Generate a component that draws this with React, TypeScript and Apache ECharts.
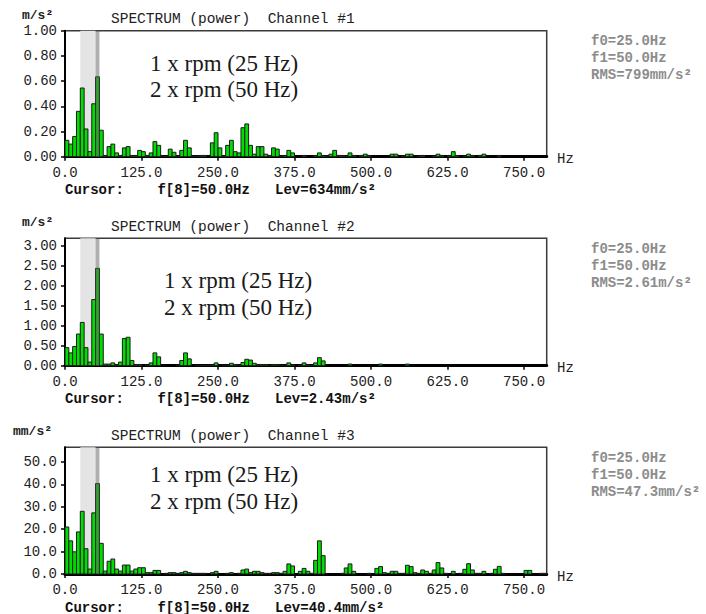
import React, { useEffect, useRef } from "react";
import * as echarts from "echarts";

// ---- data ----
const BIN_HZ = 6.25;
const X_TICKS = [0, 125, 250, 375, 500, 625, 750];

const ch1Values = [
  0.13, 0.10, 0.16, 0.36, 0.545, 0.22, 0.04, 0.42, 0.634, 0.21,
  0.01, 0.08, 0.10, 0.03, 0.01, 0.07, 0.08, 0.01, 0.01, 0.05,
  0.04, 0.01, 0.03, 0.12, 0.09, 0.005, 0.005, 0.06, 0.035, 0.005,
  0.05, 0.13, 0.07, 0.005, 0.005, 0.01, 0.01, 0, 0.11, 0.19,
  0.07, 0.005, 0.09, 0.13, 0.04, 0.03, 0.23, 0.26, 0.09, 0.02,
  0.08, 0.08, 0.02, 0.01, 0.07, 0.06, 0.005, 0.01, 0.05, 0.03,
  0, 0, 0.01, 0, 0, 0.01, 0.03, 0.01, 0.005, 0.02,
  0.05, 0.01, 0.01, 0.005, 0.03, 0.01, 0, 0.01, 0.02, 0.01,
  0, 0, 0, 0, 0, 0.02, 0.02, 0, 0.005, 0.02,
  0.02, 0, 0.005, 0.01, 0, 0, 0.005, 0.02, 0.01, 0,
  0.01, 0.04, 0.01, 0, 0.005, 0.02, 0.01, 0, 0.01, 0.02,
  0, 0, 0, 0.01, 0, 0, 0, 0, 0, 0,
  0, 0, 0, 0, 0, 0,
];

const ch2Values = [
  0.45, 0.32, 0.48, 0.79, 1.08, 0.45, 0.09, 1.65, 2.43, 0.79,
  0.04, 0.04, 0.07, 0.03, 0.09, 0.68, 0.71, 0.13, 0.03, 0.03,
  0, 0.01, 0.07, 0.32, 0.22, 0, 0, 0, 0, 0.01,
  0.13, 0.32, 0.17, 0, 0.01, 0.01, 0.01, 0.01, 0.02, 0.07,
  0, 0.005, 0.005, 0.06, 0.03, 0.01, 0.08, 0.16, 0.14, 0.06,
  0.03, 0.03, 0.03, 0.01, 0.03, 0.03, 0.01, 0.01, 0.07, 0.02,
  0, 0.01, 0.07, 0.02, 0.01, 0.07, 0.20, 0.12, 0, 0,
  0, 0, 0, 0, 0.04, 0, 0, 0, 0, 0,
  0, 0, 0.04, 0, 0, 0, 0, 0, 0, 0.04,
  0, 0, 0, 0, 0, 0, 0, 0, 0, 0,
  0, 0, 0, 0, 0, 0, 0, 0, 0, 0,
  0, 0, 0, 0, 0, 0, 0, 0, 0, 0,
  0, 0, 0, 0, 0, 0,
];

const ch3Values = [
  21, 14.8, 9.9, 18.8, 28, 11.3, 2.2, 27.3, 40.4, 13.7,
  1.3, 5.7, 6.7, 2.2, 1.3, 4.0, 4.0, 1.3, 2.2, 2.8,
  2.8, 0.6, 0.6, 1.6, 1.6, 0, 0.3, 0.6, 0.6, 0.3,
  0.6, 1.2, 0.6, 0.3, 0.3, 0.3, 0.3, 0, 0.6, 1.2,
  0, 0, 0.3, 0.6, 0, 0.3, 1.8, 2.2, 0.6, 1.2,
  1.2, 0.6, 0.3, 0.3, 0.6, 0.6, 0.3, 1.2, 4.5, 3.6,
  0, 1.2, 2.5, 1.2, 0.3, 6.1, 14.8, 8.2, 0, 0,
  0, 0, 0.3, 2.7, 4.5, 1.2, 0, 0, 0, 0.3,
  0, 2.5, 3.3, 0.6, 0.3, 1.2, 1.2, 0.3, 0.3, 3.9,
  3.3, 0.6, 0.3, 1.8, 1.2, 0.3, 1.8, 5.1, 2.7, 0.3,
  0, 1.2, 0, 0.3, 2.1, 4.6, 1.8, 0.3, 0.3, 1.2,
  0, 0.3, 2.1, 3.4, 0.3, 0, 0, 0, 0, 0,
  1.6, 1.6, 0, 0, 0.3, 0.3,
];

const yTicks1 = [0, 0.2, 0.4, 0.6, 0.8, 1.0];
const yTicks2 = [0, 0.5, 1.0, 1.5, 2.0, 2.5, 3.0];
const yTicks3 = [0, 10, 20, 30, 40, 50];
const yMaxes = [1.0, 3.18, 56.6];
const yDecimals = [2, 2, 1];

const titles = [
  "SPECTRUM (power)  Channel #1",
  "SPECTRUM (power)  Channel #2",
  "SPECTRUM (power)  Channel #3",
];
const yUnits = ["m/s²", "m/s²", "mm/s²"];
const cursorTexts = [
  "Cursor:    f[8]=50.0Hz   Lev=634mm/s²",
  "Cursor:    f[8]=50.0Hz   Lev=2.43m/s²",
  "Cursor:    f[8]=50.0Hz   Lev=40.4mm/s²",
];
const f0Texts = ["f0=25.0Hz", "f0=25.0Hz", "f0=25.0Hz"];
const f1Texts = ["f1=50.0Hz", "f1=50.0Hz", "f1=50.0Hz"];
const rmsTexts = ["RMS=799mm/s²", "RMS=2.61m/s²", "RMS=47.3mm/s²"];
const annotLine1 = "1 x rpm (25 Hz)";
const annotLine2 = "2 x rpm (50 Hz)";
const lightBand = [25, 50];
const darkBand = [50, 56.25];

// ---- layout ----
const GRID_LEFT = 65;
const GRID_RIGHT_EDGE = 546.7;
const X_MAX = 787;
const panelTops = [30.7, 238.3, 447.3];
const panelHeights = [126, 127.4, 126.7];
const annotPos = [
  { x: 150, y1: 63, y2: 89 },
  { x: 164, y1: 280, y2: 307.3 },
  { x: 150, y1: 474, y2: 501.7 },
];
const unitX = [22, 22, 13];

const MONO = "'Liberation Mono', 'Courier New', monospace";
const SERIF = "'Liberation Serif', 'Times New Roman', serif";

export default function App() {
  const ref = useRef<HTMLDivElement>(null);

  useEffect(() => {
    if (!ref.current) return;
    const chart = echarts.init(ref.current, undefined, { renderer: "svg" });

    const allValues = [ch1Values, ch2Values, ch3Values];
    const allYTicks = [yTicks1, yTicks2, yTicks3];

    const grids: any[] = [];
    const xAxes: any[] = [];
    const yAxes: any[] = [];
    const series: any[] = [];
    const graphics: any[] = [];

    for (let i = 0; i < 3; i++) {
      const top = panelTops[i];
      const h = panelHeights[i];
      const bottom = top + h;
      grids.push({
        left: GRID_LEFT,
        top,
        width: GRID_RIGHT_EDGE - GRID_LEFT,
        height: h,
        show: true,
        borderColor: "#3a3a3a",
        borderWidth: 1.5,
        backgroundColor: "transparent",
      });
      xAxes.push({
        type: "value",
        gridIndex: i,
        min: 0,
        max: X_MAX,
        splitLine: { show: false },
        axisLine: { show: true, onZero: false, lineStyle: { color: "#000", width: 3 } },
        axisTick: {
          show: true,
          length: 4,
          customValues: X_TICKS,
          lineStyle: { color: "#000", width: 1.5 },
        },
        axisLabel: {
          customValues: X_TICKS,
          formatter: (v: number) => v.toFixed(1),
          fontFamily: MONO,
          fontSize: 14,
          color: "#222",
          margin: 9,
        },
      });
      const dec = yDecimals[i];
      yAxes.push({
        type: "value",
        gridIndex: i,
        min: 0,
        max: yMaxes[i],
        splitLine: { show: false },
        axisLine: { show: true, lineStyle: { color: "#000", width: 2 } },
        axisTick: {
          show: true,
          length: 4,
          customValues: allYTicks[i],
          lineStyle: { color: "#000", width: 1.5 },
        },
        axisLabel: {
          customValues: allYTicks[i],
          formatter: (v: number) => v.toFixed(dec),
          fontFamily: MONO,
          fontSize: 14,
          color: "#222",
          margin: 8,
        },
      });

      // light band (behind bars)
      series.push({
        type: "custom",
        xAxisIndex: i,
        yAxisIndex: i,
        z: 1,
        silent: true,
        data: [[lightBand[0], lightBand[1]]],
        encode: { x: [0, 1] },
        renderItem: (params: any, api: any) => {
          const cs = params.coordSys;
          const a = api.coord([api.value(0), 0]);
          const b = api.coord([api.value(1), 0]);
          return {
            type: "rect",
            shape: { x: a[0], y: cs.y, width: b[0] - a[0], height: cs.height },
            style: { fill: "#e4e4e4" },
          };
        },
      });

      // bars
      const vals = allValues[i];
      series.push({
        type: "custom",
        xAxisIndex: i,
        yAxisIndex: i,
        z: 2,
        silent: true,
        data: vals.map((v, k) => [k * BIN_HZ, v]),
        encode: { x: 0, y: 1 },
        renderItem: (params: any, api: any) => {
          const f = api.value(0);
          const v = api.value(1);
          if (!(v > 0)) return null;
          const p0 = api.coord([f, v]);
          const p1 = api.coord([f + BIN_HZ, 0]);
          return {
            type: "rect",
            shape: {
              x: p0[0],
              y: p0[1],
              width: p1[0] - p0[0],
              height: p1[1] - p0[1],
            },
            style: { fill: "#00dd00", stroke: "#1a1a1a", lineWidth: 1 },
          };
        },
      });

      // dark band (cursor, over bars)
      series.push({
        type: "custom",
        xAxisIndex: i,
        yAxisIndex: i,
        z: 3,
        silent: true,
        data: [[darkBand[0], darkBand[1]]],
        encode: { x: [0, 1] },
        renderItem: (params: any, api: any) => {
          const cs = params.coordSys;
          const a = api.coord([api.value(0), 0]);
          const b = api.coord([api.value(1), 0]);
          return {
            type: "rect",
            shape: { x: a[0], y: cs.y, width: b[0] - a[0], height: cs.height },
            style: { fill: "rgba(95,95,95,0.5)" },
          };
        },
      });

      // texts
      const yTitle = top - 11.5;
      graphics.push({
        type: "text",
        x: unitX[i],
        y: yTitle - 4,
        style: {
          text: yUnits[i],
          font: `bold 13px ${MONO}`,
          fill: "#222",
          textVerticalAlign: "middle",
        },
      });
      graphics.push({
        type: "text",
        x: 111,
        y: yTitle,
        style: {
          text: titles[i],
          font: `14.5px ${MONO}`,
          fill: "#222",
          textVerticalAlign: "middle",
        },
      });
      graphics.push({
        type: "text",
        x: 557,
        y: bottom + 2.5,
        style: {
          text: "Hz",
          font: `14px ${MONO}`,
          fill: "#222",
          textVerticalAlign: "middle",
        },
      });
      graphics.push({
        type: "text",
        x: 65,
        y: bottom + 33.5,
        style: {
          text: cursorTexts[i],
          font: `bold 14px ${MONO}`,
          fill: "#111",
          textVerticalAlign: "middle",
        },
      });
      const rightTexts = [f0Texts[i], f1Texts[i], rmsTexts[i]];
      rightTexts.forEach((t, j) => {
        graphics.push({
          type: "text",
          x: 591,
          y: top + 10.5 + j * 17,
          style: {
            text: t,
            font: `bold 14px ${MONO}`,
            fill: "#8c8c8c",
            textVerticalAlign: "middle",
          },
        });
      });
      const ap = annotPos[i];
      graphics.push({
        type: "text",
        x: ap.x,
        y: ap.y1,
        z: 10,
        style: {
          text: annotLine1,
          font: `23px ${SERIF}`,
          fill: "#1a1a1a",
          textVerticalAlign: "middle",
        },
      });
      graphics.push({
        type: "text",
        x: ap.x,
        y: ap.y2,
        z: 10,
        style: {
          text: annotLine2,
          font: `23px ${SERIF}`,
          fill: "#1a1a1a",
          textVerticalAlign: "middle",
        },
      });
    }

    chart.setOption({
      animation: false,
      backgroundColor: "#ffffff",
      grid: grids,
      xAxis: xAxes,
      yAxis: yAxes,
      series,
      graphic: { elements: graphics },
    });

    return () => chart.dispose();
  }, []);

  return (
    <div
      ref={ref}
      style={{ position: "absolute", left: 0, top: 0, width: 706, height: 614 }}
    />
  );
}
